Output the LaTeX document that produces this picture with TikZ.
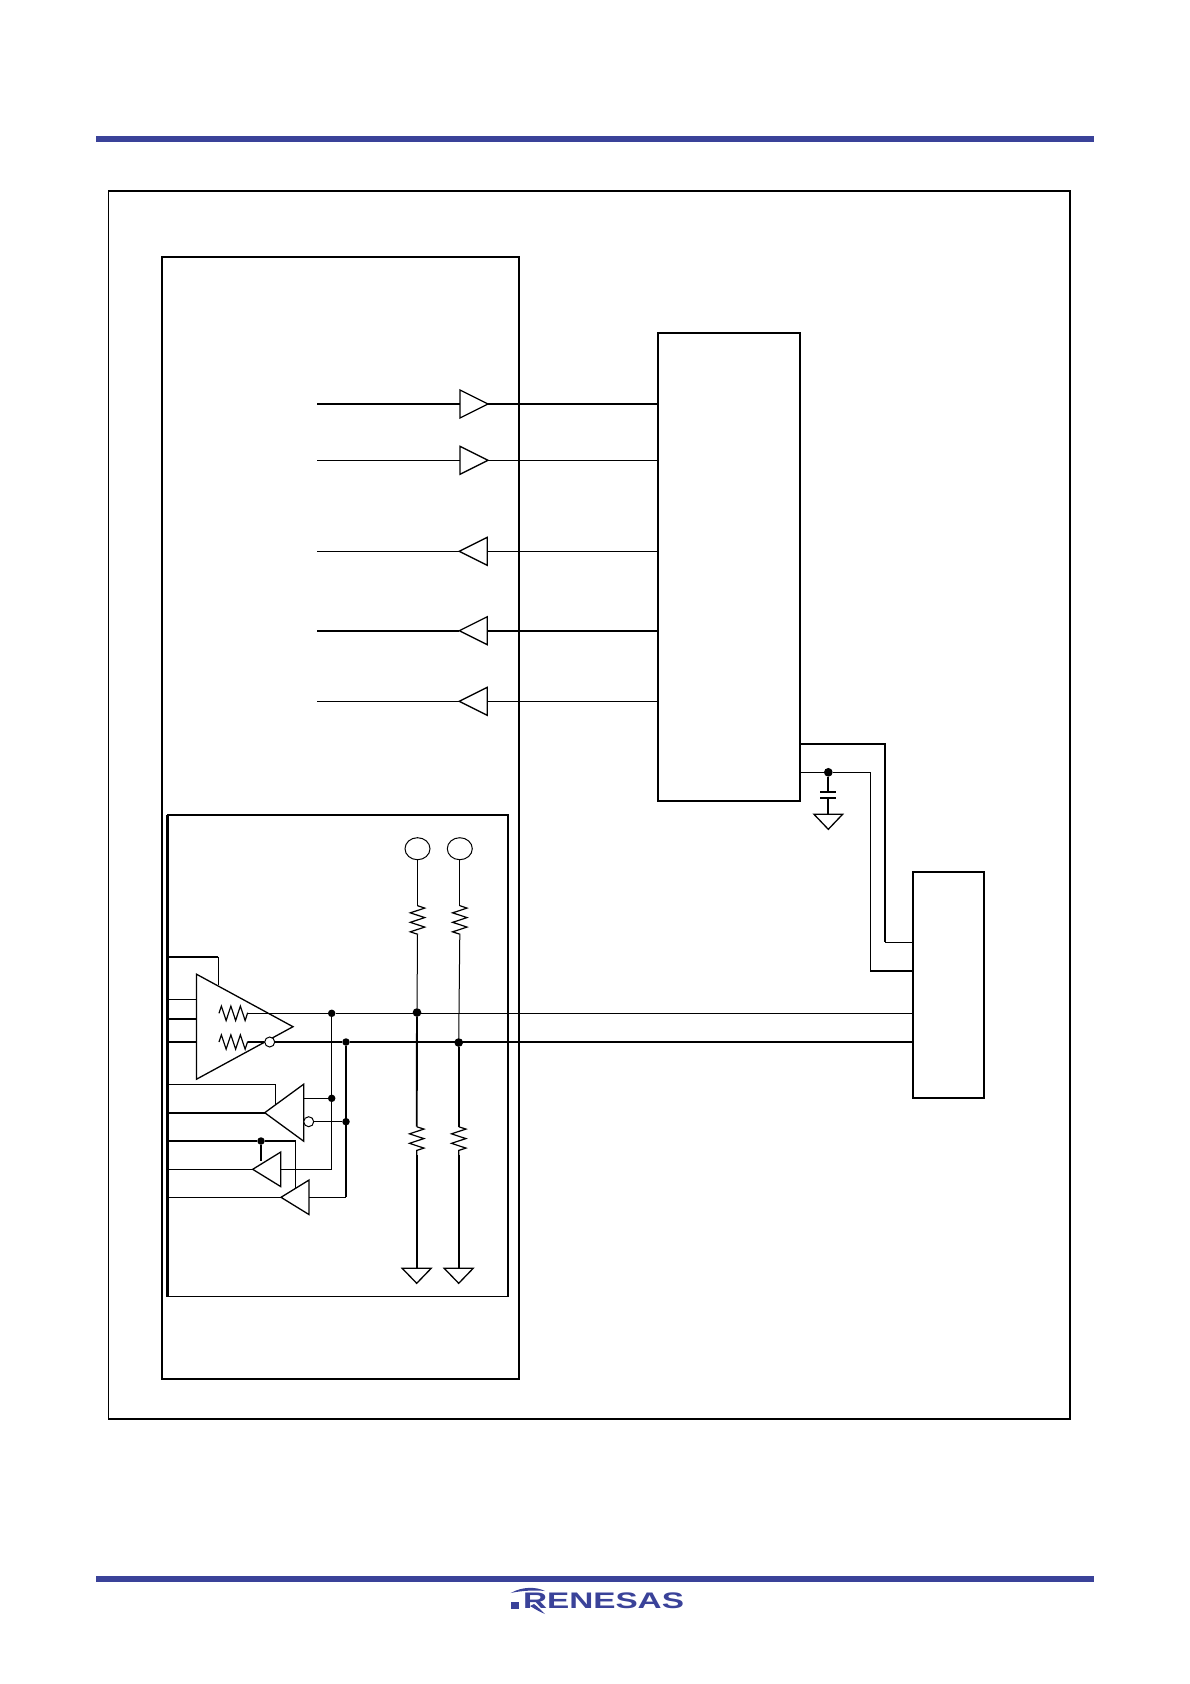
\documentclass[tikz,border=0pt]{standalone}
\usepackage{fontspec}
\usetikzlibrary{shapes.geometric,decorations.pathmorphing}
\newfontfamily\logofont{Liberation Sans}
\definecolor{barblue}{HTML}{3A4299}
\tikzset{
	thin wire/.style={line width=1pt},
	thick wire/.style={line width=1.9pt},
	box/.style={draw, line width=1.7pt, anchor=north west, inner sep=0pt, outer sep=0pt},
	gate/.style={draw, line width=1.3pt, isosceles triangle, isosceles triangle stretches, inner sep=0pt, outer sep=0pt, anchor=apex, minimum height=#1},
	gate/.default=28pt,
	gnd/.style={gate=15pt, minimum width=29pt, shape border rotate=270},
	dot/.style={circle, fill=black, inner sep=0pt, minimum size=7.5pt},
	bigdot/.style={dot, minimum size=8.7pt},
	bubble/.style={circle, draw, line width=1pt, fill=white, inner sep=0pt, minimum size=10pt},
	pad/.style={ellipse, draw, line width=1pt, inner sep=0pt, minimum width=25pt, minimum height=22pt},
	resistor/.style={line width=1.2pt, decorate, decoration={zigzag, segment length=9.5pt, amplitude=7.2pt}},
}
\begin{document}
\begin{tikzpicture}[x=1pt, y=-1pt]
	\useasboundingbox (0, 0) rectangle (1190, 1684);

	% page bars and logo
	\node(topbar) at (595, 138.5)[fill=barblue, minimum width=998pt, minimum height=6pt, inner sep=0pt]{};
	\node(botbar) at (595, 1579)[fill=barblue, minimum width=998pt, minimum height=6pt, inner sep=0pt]{};
	\node(logo) at (603.5, 1601)[text=barblue, font=\logofont\bfseries\fontsize{22.5}{24}\selectfont, xscale=1.48, transform shape, inner sep=0pt]{RENESAS};
	\fill[barblue] (510.7, 1601.7) rectangle (519, 1609);
	\fill[barblue] (510.7, 1593) .. controls (522, 1586.5) and (536, 1586.5) .. (545, 1591) .. controls (535, 1590) and (522, 1590.5) .. (510.7, 1593) -- cycle;
	\fill[barblue] (534, 1604) .. controls (538, 1607) and (542, 1611) .. (545, 1614) .. controls (541, 1612.5) and (535, 1609) .. (530, 1606) -- cycle;

	% boxes
	\node(frame) at (108.5, 191)[box, minimum width=961.5pt, minimum height=1228pt]{};
	\node(chip) at (162, 257)[box, minimum width=357.3pt, minimum height=1122pt]{};
	\node(phy) at (658, 333)[box, minimum width=141.7pt, minimum height=468pt]{};
	\node(conn) at (913, 872)[box, minimum width=71pt, minimum height=226pt]{};
	\node(xcvr) at (167.5, 815)[box, minimum width=340.5pt, minimum height=481.5pt]{};
	\draw [thick wire, line width=2.4pt] (xcvr.north west) -- (xcvr.south west);
	\draw [thick wire, line width=2.4pt] (phy.north east) -- (phy.south east);
	\draw [thick wire] (xcvr.south west) -- (xcvr.south east);
	\draw [thick wire] (phy.south west) -- (phy.south east);
	\draw [thick wire] (chip.south west) -- (chip.south east);
	\draw [thick wire] (chip.north east) -- (chip.south east);
	\draw [thick wire] (conn.south west) -- (conn.south east);

	% bus line buffers
	\coordinate(A0) at (317.3, 404);
	\coordinate(B0) at (317.3, 460.3);
	\coordinate(C0) at (317.3, 551.3);
	\coordinate(D0) at (317.3, 630.7);
	\coordinate(E0) at (317.3, 701.3);
	\node(A) at (488, 404)[gate, minimum width=28pt, shape border rotate=0]{};
	\node(B) at (488, 460.3)[gate, minimum width=28pt, shape border rotate=0]{};
	\node(C) at (459.3, 551.3)[gate, minimum width=28pt, shape border rotate=180]{};
	\node(D) at (459.3, 630.7)[gate, minimum width=28pt, shape border rotate=180]{};
	\node(E) at (459.3, 701.3)[gate, minimum width=28pt, shape border rotate=180]{};
	\draw [thick wire] (A0) -- (A.lower side);
	\draw [thick wire] (A.apex) -- (phy.west |- A.apex);
	\draw [thin wire] (B0) -- (B.lower side);
	\draw [thin wire] (B.apex) -- (phy.west |- B.apex);
	\draw [thin wire] (C0) -- (C.apex);
	\draw [thin wire] (C.lower side) -- (phy.west |- C.lower side);
	\draw [thick wire] (D0) -- (D.apex);
	\draw [thick wire] (D.lower side) -- (phy.west |- D.lower side);
	\draw [thin wire] (E0) -- (E.apex);
	\draw [thin wire] (E.lower side) -- (phy.west |- E.lower side);

	% driver
	\node(drv) at (293, 1026.7)[gate=96.5pt, minimum width=105pt, shape border rotate=0]{};
	\node(DP) at (331.7, 1013.3)[dot]{};
	\node(DN) at (346, 1042)[dot]{};
	\node(DNo) at (269.7, 1042)[bubble]{};
	\coordinate(RPa) at (219, 1013.3);
	\coordinate(RPb) at (248, 1013.3);
	\coordinate(RNa) at (219, 1042);
	\coordinate(RNb) at (248, 1042);
	\coordinate(DEa) at (167.5, 956.7);
	\coordinate(DEb) at (218.3, 956.7);
	\coordinate(DEc) at (218.3, 985);
	\draw [thick wire] (DEa) -- (DEb);
	\draw [thin wire] (DEb) -- (DEc);
	\draw [thin wire] (167.5, 999.3) -- (drv.lower side |- 0, 999.3);
	\draw [thick wire] (167.5, 1018.7) -- (drv.lower side |- 0, 1018.7);
	\draw [thick wire] (167.5, 1042) -- (drv.lower side |- 0, 1042);
	\draw [resistor] (RPa) -- (RPb);
	\draw [resistor] (RNa) -- (RNb);
	\draw [thin wire] (RPb) -- (DP) -- (conn.west |- DP);
	\draw [thick wire] (RNb) -- (DNo);
	\draw [thick wire] (DNo) -- (DN) -- (conn.west |- DN);

	% receiver and the two low level buffers
	\node(rcv) at (264.7, 1112.7)[gate=39pt, minimum width=57pt, shape border rotate=180]{};
	\node(lo1) at (252.7, 1169.3)[gate, minimum width=34.5pt, shape border rotate=180]{};
	\node(lo2) at (281, 1197.3)[gate, minimum width=34.5pt, shape border rotate=180]{};
	\node(RPd) at (331.7, 1098.3)[dot]{};
	\node(RNd) at (346, 1121.7)[dot]{};
	\node(RNo) at (308.7, 1121.7)[bubble]{};
	\node(SRd) at (261, 1141)[dot]{};
	\coordinate(REa) at (167.5, 1084.3);
	\coordinate(REb) at (275.7, 1084.3);
	\coordinate(REc) at (275.7, 1104);
	\coordinate(SRa) at (167.5, 1141);
	\coordinate(SRb) at (295.7, 1141);
	\coordinate(SRc) at (295.7, 1188);
	\coordinate(SRe) at (261, 1161);
	\draw [thin wire] (REa) -- (REb) -- (REc);
	\draw [thick wire] (167.5, 1112.7) -- (rcv.apex);
	\draw [thin wire] (303.7, 1098.3) -- (RPd);
	\draw [thin wire] (RNo) -- (RNd);
	\draw [thick wire] (SRa) -- (SRd) -- (SRb);
	\draw [thin wire] (SRb) -- (SRc);
	\draw [thick wire] (SRd) -- (SRe);
	\draw [thin wire] (167.5, 1169.3) -- (lo1.apex);
	\draw [thin wire] (167.5, 1197.3) -- (lo2.apex);
	\draw [thick wire, line width=1.5pt] (DP) -- (331.7, 1169.3);
	\draw [thin wire] (331.7, 1169.3) -- (lo1.lower side);
	\draw [thick wire, line width=1.5pt] (DN) -- (346, 1197.3);
	\draw [thin wire] (346, 1197.3) -- (lo2.lower side);

	% pads, pull resistors and grounds
	\node(P1) at (417.5, 848.7)[pad]{};
	\node(P2) at (459.8, 848.7)[pad]{};
	\node(J1) at (417, 1012.5)[bigdot]{};
	\node(J2) at (458.7, 1042.5)[bigdot]{};
	\coordinate(R1a) at (417.5, 905.7);
	\coordinate(R1b) at (417.5, 934.3);
	\coordinate(R2a) at (459.8, 905.7);
	\coordinate(R2b) at (459.8, 934.3);
	\coordinate(R3a) at (416.7, 1126.7);
	\coordinate(R3b) at (416.7, 1155);
	\coordinate(R4a) at (458.7, 1126.7);
	\coordinate(R4b) at (458.7, 1155);
	\node(G1) at (416.7, 1283.3)[gnd]{};
	\node(G2) at (458.7, 1283.3)[gnd]{};
	\draw [thin wire] (P1) -- (R1a);
	\draw [resistor] (R1a) -- (R1b);
	\draw [thin wire] (R1b) -- (J1);
	\draw [thin wire] (P2) -- (R2a);
	\draw [resistor] (R2a) -- (R2b);
	\draw [thin wire] (R2b) -- (J2);
	\draw [thick wire] (J1) -- (R3a);
	\draw [resistor] (R3a) -- (R3b);
	\draw [thick wire] (R3b) -- (G1.lower side);
	\draw [thick wire] (J2) -- (R4a);
	\draw [resistor] (R4a) -- (R4b);
	\draw [thick wire] (R4b) -- (G2.lower side);

	% supply to the connector
	\node(V) at (828.3, 772.3)[bigdot]{};
	\node(G3) at (828.3, 829.3)[gnd, minimum width=28.6pt]{};
	\coordinate(Ca) at (820.3, 791.7);
	\coordinate(Cb) at (836.3, 791.7);
	\coordinate(Cc) at (820.3, 797.7);
	\coordinate(Cd) at (836.3, 797.7);
	\coordinate(Pa) at (799.7, 744);
	\coordinate(Pb) at (885, 744);
	\coordinate(Pc) at (885, 942);
	\coordinate(Na) at (799.7, 772.3);
	\coordinate(Nb) at (870.3, 772.3);
	\coordinate(Nc) at (870.3, 970.7);
	\draw [thick wire] (Pa) -- (Pb) -- (Pc);
	\draw [thin wire] (Pc) -- (conn.west |- Pc);
	\draw [thin wire] (Na) -- (V) -- (Nb) -- (Nc);
	\draw [thick wire] (Nc) -- (conn.west |- Nc);
	\draw [thick wire] (V) -- (828.3, 791.7);
	\draw [thick wire] (828.3, 797.7) -- (G3.lower side);
	\draw [thick wire] (Ca) -- (Cb);
	\draw [thick wire] (Cc) -- (Cd);
\end{tikzpicture}
\end{document}
